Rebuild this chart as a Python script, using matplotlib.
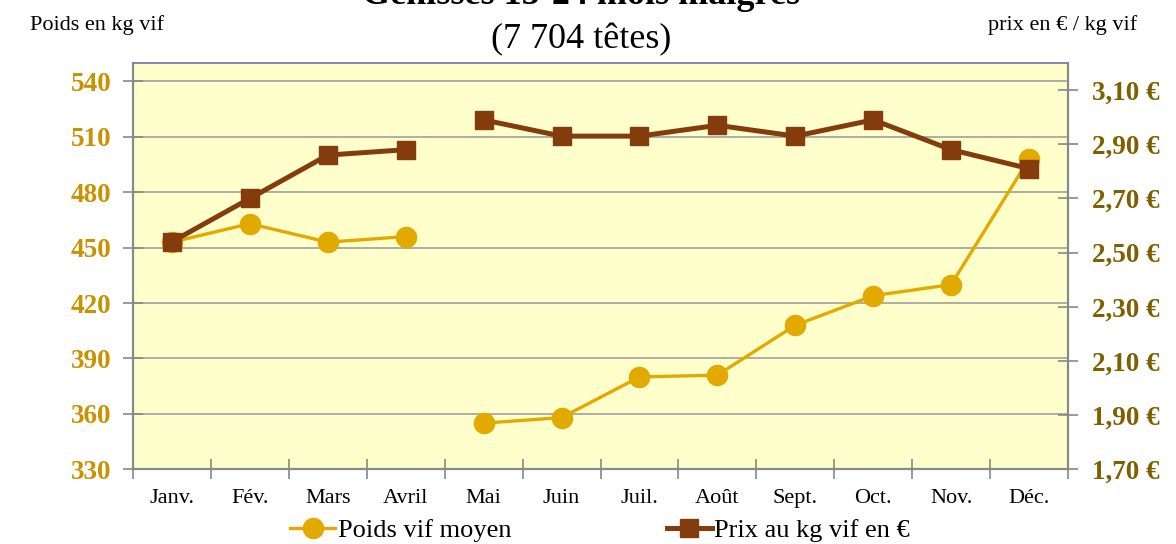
import matplotlib
matplotlib.use("Agg")
import matplotlib.pyplot as plt
import numpy as np
from matplotlib.lines import Line2D

months = ["Janv.", "Fév.", "Mars", "Avril", "Mai", "Juin", "Juil.", "Août", "Sept.", "Oct.", "Nov.", "Déc."]
poids = [453, 463, 453, 456, np.nan, 355, 358, 380, 381, 408, 424, 430, 498]
prix = [2.54, 2.70, 2.86, 2.88, np.nan, 2.99, 2.93, 2.93, 2.97, 2.93, 2.99, 2.88, 2.81]
# x positions with a break between Avril and Mai
xpos = [0, 1, 2, 3, 3.5, 4, 5, 6, 7, 8, 9, 10, 11]
left_ticks = [330, 360, 390, 420, 450, 480, 510, 540]
right_ticks = [1.70, 1.90, 2.10, 2.30, 2.50, 2.70, 2.90, 3.10]

plt.rcParams['font.family'] = ['Liberation Serif', 'DejaVu Serif']

fig = plt.figure(figsize=(11.76, 5.44), dpi=100)
ax = fig.add_axes([133/1176, 1-469.3/544, (1068-133)/1176, (469.3-63)/544])
ax.set_facecolor('#FFFFCC')
ax2 = ax.twinx()

c_poids = '#E2A900'
c_prix = '#843C0C'

ax.plot(xpos, poids, color=c_poids, lw=2.4, marker='o', markersize=14.5, zorder=3)
ax2.plot(xpos, prix, color=c_prix, lw=3.6, marker='s', markersize=13, zorder=4)

ax.set_xlim(-0.5, 11.5)
ax.set_ylim(330, 550)
ax2.set_ylim(1.70, 3.20)
ax.set_yticks(left_ticks)
ax.set_yticklabels([str(v) for v in left_ticks])
ax2.set_yticks(right_ticks)
ax2.set_yticklabels([f"{v:.2f} €".replace('.', ',') for v in right_ticks])

ax.yaxis.grid(True, color='#A0A0A0', lw=1.2)
ax.set_axisbelow(True)

ax.set_xticks(np.arange(12))
ax.set_xticklabels(months)
ax.set_xticks(np.arange(-0.5, 12, 1), minor=True)
ax.tick_params(axis='x', which='major', length=0, pad=14, labelsize=16)
ax.tick_params(axis='x', which='minor', direction='inout', length=14, color='#888888', width=1.2)

ax.tick_params(axis='y', direction='inout', length=15, color='#888888', width=1.2, pad=8,
               labelsize=19.5, labelcolor='#C89200')
for t in ax.get_yticklabels():
    t.set_fontweight('bold')
ax2.tick_params(axis='y', direction='inout', length=15, color='#888888', width=1.2, pad=10,
                labelsize=19.5, labelcolor='#7F6000')
for t in ax2.get_yticklabels():
    t.set_fontweight('bold')

for a in (ax, ax2):
    for s in ['left', 'right', 'bottom']:
        a.spines[s].set_color('#888888')
        a.spines[s].set_linewidth(1.5)
    a.spines['top'].set_color('#9080B0')
    a.spines['top'].set_linewidth(1.2)

fig.text(0.494, 1-4/544, "Génisses 15-24 mois maigres", ha='center', va='baseline',
         fontsize=26, fontweight='bold')
fig.text(0.494, 1-48/544, "(7 704 têtes)", ha='center', va='baseline', fontsize=26)
fig.text(30/1176, 1-30/544, "Poids en kg vif", ha='left', va='baseline', fontsize=16)
fig.text(1137/1176, 1-30/544, "prix en € / kg vif", ha='right', va='baseline', fontsize=16)

h1 = Line2D([], [], color=c_poids, lw=2.4, marker='o', markersize=14.5)
h2 = Line2D([], [], color=c_prix, lw=3.6, marker='s', markersize=13)
fig.legend([h1, h2], ["Poids vif moyen", "Prix au kg vif en €"], loc='center',
           bbox_to_anchor=(600/1176, 1-530/544), ncol=2, frameon=False, fontsize=19,
           handlelength=1.7, handletextpad=0.1, columnspacing=5.9)

fig.savefig("out.png", dpi=100)
